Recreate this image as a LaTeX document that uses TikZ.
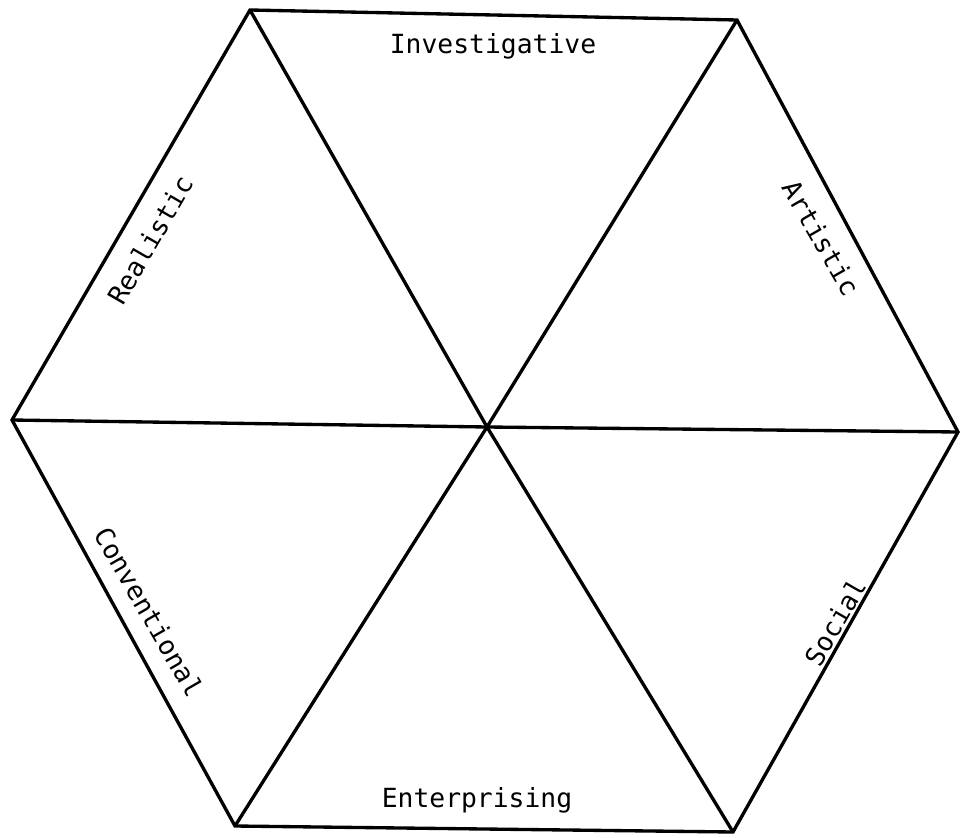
\documentclass[tikz,border=0pt]{standalone}
\usepackage{fontspec}
\newfontfamily\typefont{DejaVu Sans Mono}
\usepackage{tikz}
\usetikzlibrary{positioning, calc}

\begin{document}
\begin{tikzpicture}[
    x=0.02cm, y=-0.02cm,
    edge/.style={line width=1.9pt, line join=miter},
    lbl/.style={font=\typefont\fontsize{15}{17}\selectfont, inner sep=0pt}
]
\useasboundingbox (0,0) rectangle (960,838);

% corners of the hexagon
\coordinate (tl) at (250,10);
\coordinate (tr) at (737,20);
\coordinate (r)  at (958,432);
\coordinate (br) at (733,832);
\coordinate (bl) at (235,826);
\coordinate (l)  at (12,420);
\coordinate (c)  at (487,427);

\draw[edge] (tl) -- (tr) -- (r) -- (br) -- (bl) -- (l) -- cycle;
\draw[edge] (tl) -- (c) -- (br);
\draw[edge] (tr) -- (c) -- (bl);
\draw[edge] (l) -- (c) -- (r);

% type names
\node[lbl] (inv) at (493,46) {Investigative};
\node[lbl] (ent) at (477,800) {Enterprising};
\node[lbl, rotate=60]  (rea) at (150,240) {Realistic};
\node[lbl, rotate=-60] (art) at (821,238) {Artistic};
\node[lbl, rotate=-60] (con) at (149,612) {Conventional};
\node[lbl, rotate=60]  (soc) at (835,622) {Social};

\end{tikzpicture}
\end{document}
